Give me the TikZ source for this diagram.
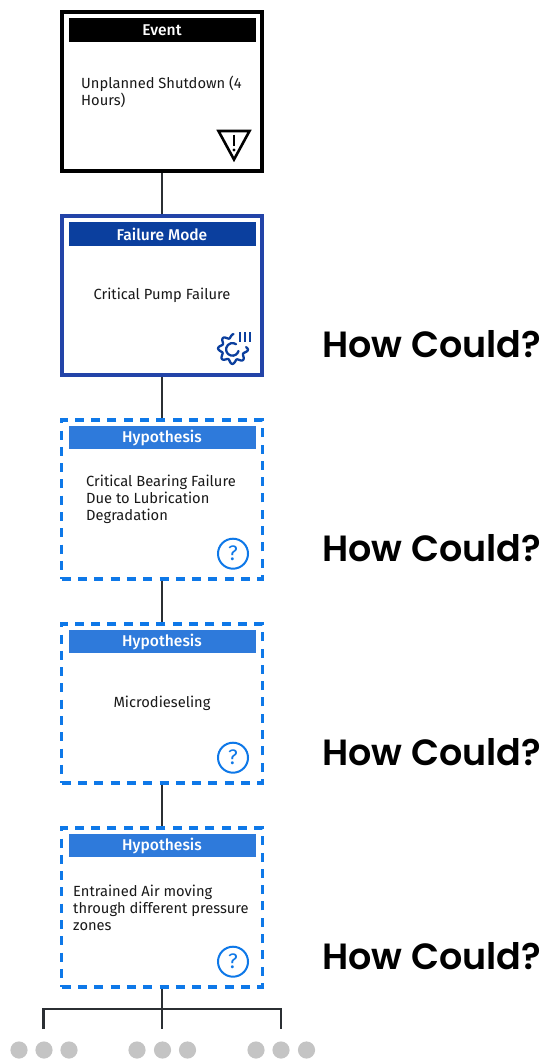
\documentclass[tikz,border=0pt]{standalone}
\usepackage{fontspec}
\setmainfont{Fira Sans}[BoldFont={Fira Sans Medium}]
\newfontfamily\howfont{Poppins SemiBold}
\usetikzlibrary{arrows.meta, positioning, calc}
\definecolor{eventblack}{HTML}{000000}
\definecolor{modeblue}{HTML}{0B3F9E}
\definecolor{modeline}{HTML}{2344A8}
\definecolor{hypline}{HTML}{0E78E8}
\definecolor{hypbar}{HTML}{2E7ADB}
\definecolor{linkgrey}{HTML}{2B2F33}
\definecolor{dotgrey}{HTML}{C4C4C4}
\tikzset{
	cardbox/.style={draw, line width=4pt, fill=white, minimum width=200.5pt, minimum height=159pt},
	hypbox/.style={draw=hypline, line width=3.3pt, dash pattern=on 9pt off 7.3pt, fill=white, minimum width=200.5pt, minimum height=159pt},
	headbar/.style={text=white, font=\fontsize{15.6}{17}\selectfont\bfseries, minimum width=187pt, minimum height=23.4pt, inner sep=0pt},
	bodytext/.style={font=\fontsize{14.7}{17}\selectfont, text=black!90, align=left, inner sep=0pt},
	howtext/.style={font=\fontsize{36.5}{40}\selectfont\howfont, inner sep=0pt, anchor=west},
	link/.style={draw=linkgrey, line width=2.2pt}
}
\begin{document}
\begin{tikzpicture}[x=1pt, y=-1pt]
	\useasboundingbox (0,0) rectangle (550,1063);
	
	% Boxes
	\node[cardbox, draw=eventblack] (event) at (162,91.5) {};
	\node[cardbox, draw=modeline] (mode) at (162,295.6) {};
	\node[hypbox] (hypa) at (162,499.5) {};
	\node[hypbox] (hypb) at (162,703.5) {};
	\node[hypbox] (hypc) at (162,907.5) {};
	
	% Header bars
	\node[headbar, fill=eventblack] (eventhead) at (162,30) {Event};
	\node[headbar, fill=modeblue] (modehead) at (162,234) {Failure Mode};
	\node[headbar, fill=hypbar] (hypahead) at (162,437.7) {Hypothesis};
	\node[headbar, fill=hypbar] (hypbhead) at (162,641.7) {Hypothesis};
	\node[headbar, fill=hypbar] (hypchead) at (162,845.7) {Hypothesis};
	
	% Body texts
	\node[bodytext, anchor=west] (eventtext) at (81,91.5) {Unplanned Shutdown (4\\Hours)};
	\node[bodytext] (modetext) at (162,295.5) {Critical Pump Failure};
	\node[bodytext, anchor=west] (hypatext) at (86,499.5) {Critical Bearing Failure\\Due to Lubrication\\Degradation};
	\node[bodytext] (hypbtext) at (162,703.5) {Microdieseling};
	\node[bodytext, anchor=west] (hypctext) at (73,907.5) {Entrained Air moving\\through different pressure\\zones};
	
	% Links between the boxes
	\draw[link] (event) -- (mode);
	\draw[link] (mode) -- (hypa);
	\draw[link] (hypa) -- (hypb);
	\draw[link] (hypb) -- (hypc);
	
	% Tree under the last box
	\coordinate (treeleft) at (43.5,1009);
	\coordinate (treeright) at (281,1009);
	\coordinate (dropleft) at (43.5,1029);
	\coordinate (dropmid) at (162,1029);
	\coordinate (dropright) at (281,1029);
	\draw[link] (hypc) -- (dropmid);
	\draw[link] (dropleft) -- (treeleft) -- (treeright) -- (dropright);
	
	% Dots
	\foreach \x in {19,44,69,137,162.5,187.5,256,281,306.5}
		\fill[dotgrey] (\x,1050) circle[radius=8.6pt];
	
	% Warning icon
	\draw[line width=2.6pt, line join=miter] (218.5,131) -- (249.5,131) -- (234,159.5) -- cycle;
	\draw[line width=2.4pt] (234,134.5) -- (234,146);
	\fill (234,150) circle[radius=1.6pt];
	
	% Gear icon
	\draw[modeblue, line width=2.3pt, line join=round, line cap=round] plot[domain=88:368, samples=140] ({233+(13+1.9*cos(8*\x+20))*cos(\x)}, {349-(13+1.9*cos(8*\x+20))*sin(\x)});
	\draw[modeblue, line width=2.3pt, line cap=round] (238.5,351) arc[start angle=-15, end angle=-305, radius=6.3pt];
	\foreach \x in {240,245,250}
		\draw[modeblue, line width=2.2pt] (\x,332) -- (\x,342);
	
	% Question icons
	\foreach \y/\name in {553.7/a,757.7/b,961.7/c}{
		\draw[hypline, line width=2pt] (233,\y) circle[radius=15pt];
		\node[text=hypline, font=\fontsize{21}{21}\selectfont, inner sep=0pt] (ask\name) at (233,\y) {?};
	}
	
	% Question on the right
	\node[howtext] (howa) at (322,344) {How Could?};
	\node[howtext] (howb) at (322,548) {How Could?};
	\node[howtext] (howc) at (322,752) {How Could?};
	\node[howtext] (howd) at (322,956) {How Could?};
\end{tikzpicture}
\end{document}
